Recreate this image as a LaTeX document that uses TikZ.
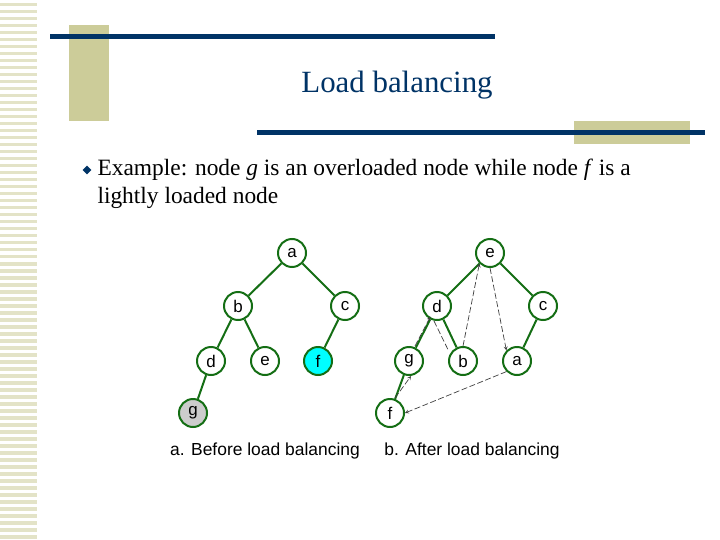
\documentclass[tikz,border=0pt]{standalone}
\usepackage{fontspec}
\setmainfont{Liberation Serif}
\newfontfamily\sansfam{Liberation Sans}
\usetikzlibrary{shapes.geometric}
\definecolor{navy}{RGB}{0,51,102}
\definecolor{khaki}{RGB}{204,204,153}
\definecolor{tgreen}{RGB}{20,110,20}
\tikzset{
  vert/.style={circle, draw=tgreen, line width=2pt, fill=white, minimum size=28bp, inner sep=0pt, font=\sansfam\fontsize{17}{17}\selectfont},
  edge/.style={draw=tgreen, line width=2pt},
  move/.style={draw=black!75, dash pattern=on 6pt off 2.5pt, ->, >=stealth, line width=0.7pt}
}
\begin{document}
\begin{tikzpicture}[x=1bp,y=-1bp]
    % --- фон ---
    \useasboundingbox (0,0) rectangle (720,540);
    \fill[white] (0,0) rectangle (720,540);
    \foreach \k in {0,...,76}
        \fill[khaki!55] (0,{3+7*\k}) rectangle (37,{6.5+7*\k});
    \fill[khaki] (69,25) rectangle (109,121);
    \fill[khaki] (574,121) rectangle (690,144);
    \draw[navy, line width=5bp] (50,37) -- (495,37);
    \draw[navy, line width=5bp] (257,133) -- (705,133);

    % --- заголовок и текст ---
    \node[navy, font=\fontsize{31}{31}\selectfont] (title) at (397,85) {Load balancing};
    \node[diamond, fill=navy, inner sep=0pt, minimum size=9bp] (bul) at (87,170) {};
    \node[anchor=west, align=left, font=\fontsize{23.5}{28}\selectfont] (txt) at (94,184)
        {Example: node \textit{g} is an overloaded node while node \textit{f} is a\\lightly loaded node};

    % --- дерево до ---
    \node[vert] (a1) at (292,253) {a};
    \node[vert] (b1) at (238,306) {b};
    \node[vert] (c1) at (345,306) {c};
    \node[vert] (d1) at (211,361) {d};
    \node[vert] (e1) at (265,361) {e};
    \node[vert, fill={rgb,255:red,0;green,255;blue,255}] (f1) at (318,361) {f};
    \node[vert, fill=black!20] (g1) at (193,413) {g};
    \foreach \u/\v in {a1/b1, a1/c1, b1/d1, b1/e1, c1/f1, d1/g1}
        \draw[edge] (\u) -- (\v);

    % --- дерево после ---
    \node[vert] (e2) at (490,253) {e};
    \node[vert] (d2) at (437,306) {d};
    \node[vert] (c2) at (543,306) {c};
    \node[vert] (g2) at (409,361) {g};
    \node[vert] (b2) at (463,361) {b};
    \node[vert] (a2) at (517,361) {a};
    \node[vert] (f2) at (390,413) {f};
    \foreach \u/\v in {e2/d2, e2/c2, d2/g2, d2/b2, c2/a2, g2/f2}
        \draw[edge] (\u) -- (\v);

    % перемещения
    \draw[move] (b2.north) -- (e2.south west);
    \draw[move] (e2.south) -- (a2.north west);
    \draw[move] ([xshift=6bp]g2.north) -- ([xshift=4bp]d2.south west);
    \draw[move, -] ([xshift=-3bp]d2.south) -- ([xshift=-4bp]b2.north west);
    \draw[move] ([xshift=5bp]f2.north) -- ([xshift=2bp]g2.south);
    \draw[move] (a2.south west) -- (f2.east);

    % --- подписи ---
    \node[font=\sansfam\fontsize{17.5}{17.5}\selectfont] (capa) at (265,451) {a. Before load balancing};
    \node[font=\sansfam\fontsize{17.5}{17.5}\selectfont] (capb) at (472,451) {b. After load balancing};
\end{tikzpicture}
\end{document}
